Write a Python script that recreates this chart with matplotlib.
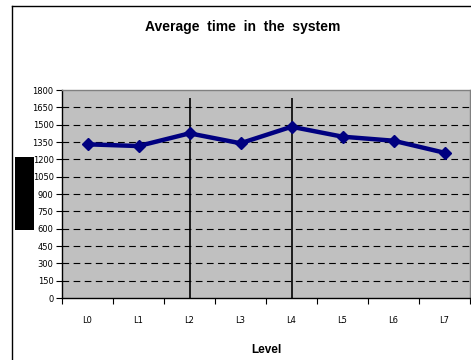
import matplotlib.pyplot as plt
from matplotlib.lines import Line2D
from matplotlib.patches import Rectangle
import numpy as np

levels = ["L0", "L1", "L2", "L3", "L4", "L5", "L6", "L7"]
avg_time = [1330, 1315, 1425, 1339, 1482, 1396, 1361, 1257]
marker_levels = ["L2", "L4"]
marker_top = 1730
y_ticks = list(range(0, 1801, 150))

W, H = 471, 360
fig = plt.figure(figsize=(W / 100, H / 100), dpi=100)
fig.patch.set_facecolor("white")

# plot area in pixel coords: left 62, right 470, top 90, bottom 298
ax = fig.add_axes([62 / W, 1 - 298 / H, (470 - 62) / W, (298 - 90) / H])
ax.set_facecolor("#C0C0C0")

x = np.arange(len(levels))
ax.set_xlim(-0.5, len(levels) - 0.5)
ax.set_ylim(0, 1800)

for val in y_ticks[1:-1]:
    ax.axhline(val, color="black", linewidth=0.8, linestyle=(0, (6, 4)), zorder=1)

for lvl in marker_levels:
    ax.vlines(levels.index(lvl), 0, marker_top, color="black", linewidth=1.2, zorder=2)

ax.plot(x, avg_time, color="#000080", linewidth=3.2, marker="D", markersize=6,
        zorder=3, clip_on=False)

ax.set_yticks(y_ticks)
ax.set_yticklabels([str(v) for v in y_ticks])
ax.set_xticks(np.arange(-0.5, len(levels), 1.0))
ax.set_xticklabels([])
ax.set_xticks(x, minor=True)
ax.set_xticklabels(levels, minor=True)
ax.tick_params(axis="x", which="major", direction="out", length=4, width=0.8, color="black")
ax.tick_params(axis="x", which="minor", length=0, pad=13, labelsize=6)
ax.tick_params(axis="y", direction="out", length=4, width=0.8, labelsize=6, pad=2)

for side in ("top", "right"):
    ax.spines[side].set_color("#808080")
    ax.spines[side].set_linewidth(1.0)
for side in ("left", "bottom"):
    ax.spines[side].set_color("black")
    ax.spines[side].set_linewidth(1.0)

fig.text(243 / W, 1 - 27 / H, "Average  time  in  the  system", ha="center", va="center",
         fontsize=10, fontweight="bold", family="Liberation Sans")
fig.text(266 / W, 1 - 350 / H, "Level", ha="center", va="center",
         fontsize=8.5, fontweight="bold", family="Liberation Sans")

# chart frame
fig.add_artist(Line2D([12 / W, 12 / W], [1 - 6 / H, 0], color="black", linewidth=1.0,
                      transform=fig.transFigure))
fig.add_artist(Line2D([12 / W, 1], [1 - 6 / H, 1 - 6 / H], color="black", linewidth=1.0,
                      transform=fig.transFigure))

# blocked-out axis title
fig.add_artist(Rectangle((15 / W, 1 - 230 / H), 19 / W, 73 / H, facecolor="black",
                         edgecolor="none", transform=fig.transFigure, zorder=5))

fig.savefig("out.png", dpi=100)
